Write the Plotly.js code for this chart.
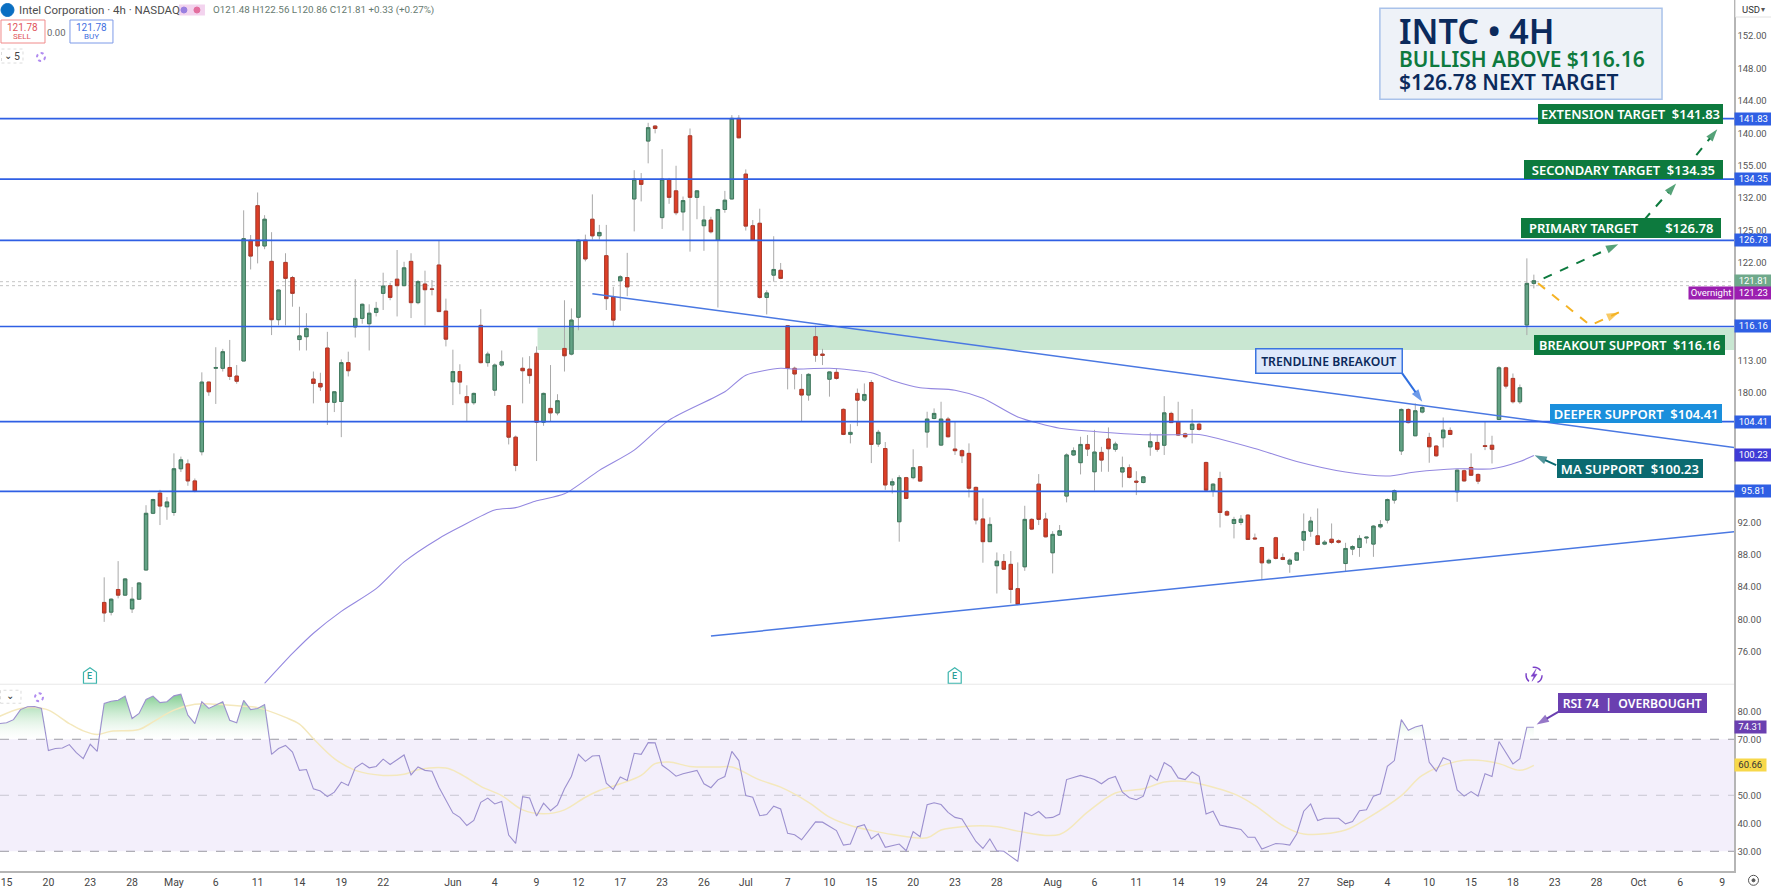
<!DOCTYPE html>
<html>
<head>
<meta charset="utf-8">
<script src="https://cdn.plot.ly/plotly-3.0.1.min.js"></script>
<style>html,body{margin:0;padding:0;background:#fff}#chart{width:1771px;height:888px}</style>
</head>
<body>
<div id="chart"></div>
<script>
// 4h candles, index 0 = first visible candle
var opens = [82.1,80.9,83.7,83.0,81.3,82.5,86.1,93.1,95.6,93.9,
  93.2,98.6,99.2,97.1,100.7,109.3,111.0,111.0,111.1,110.04,
  111.9,126.8,131.07,126.1,124.2,117.0,124.07,122.2,114.55,114.9,
  109.67,109.13,113.5,106.8,106.9,111.7,116.1,117.16,116.5,117.9,
  120.25,121.2,122.0,121.2,124.2,119.1,121.4,120.8,123.75,118.06,
  109.34,110.6,107.5,106.75,116.3,111.7,108.3,111.4,106.4,102.5,
  111.0,110.9,112.85,104.35,106.05,105.5,113.45,112.75,117.3,126.8,
  129.4,127.36,124.9,119.8,121.8,122.2,131.9,134.3,139.05,140.9,
  129.6,134.3,132.9,130.3,139.7,132.1,128.6,129.3,126.8,130.6,
  131.9,141.85,134.97,128.6,128.9,119.75,122.5,123.1,116.25,111.0,
  108.4,107.7,114.9,112.75,109.65,110.5,105.93,102.84,107.9,107.07,
  109.25,101.65,101.1,96.6,92.06,97.5,97.5,98.85,103.13,104.8,
  101.52,104.73,101.03,100.83,100.5,96.3,92.4,89.6,86.63,87.16,
  86.8,83.8,86.5,92.35,96.7,92.4,88.23,90.4,95.23,100.3,
  99.35,101.6,98.23,100.62,102.27,101.0,98.2,98.73,97.07,96.9,
  101.3,101.85,101.5,105.43,104.4,102.9,103.46,104.1,99.38,95.88,
  97.4,93.3,91.85,91.97,92.88,90.05,88.88,86.99,90.08,87.65,
  86.83,87.32,89.79,90.9,90.32,89.3,89.9,89.7,86.9,88.68,
  88.88,90.05,89.3,91.43,92.26,94.73,100.8,105.92,102.67,105.6,
  102.46,101.4,102.42,103.33,95.76,98.35,98.76,97.9,101.45,101.5,
  104.68,111.06,109.75,106.87,116.34,121.48];
var highs = [85.2,82.6,87.2,85.1,84.0,84.6,94.1,94.9,96.0,95.1,
  100.5,100.1,99.75,97.4,110.5,109.35,113.6,113.4,114.5,111.4,
  130.5,127.45,132.7,129.9,127.8,120.7,125.2,122.4,118.6,117.8,
  110.6,110.45,115.5,108.2,112.1,113.05,122.0,119.0,118.9,119.2,
  122.8,121.56,125.6,124.15,125.2,121.9,123.05,121.9,126.8,119.6,
  113.3,111.5,108.9,108.0,118.3,113.05,111.6,113.2,106.45,102.7,
  112.35,112.5,113.7,108.0,111.4,107.8,119.4,118.4,126.9,127.5,
  132.47,128.7,128.7,121.05,122.5,125.25,135.45,135.1,141.3,141.0,
  138.05,134.5,136.0,132.2,140.6,133.0,131.05,129.7,130.7,132.9,
  142.25,142.25,135.55,129.3,130.7,120.65,127.3,124.0,116.3,111.2,
  110.3,110.4,116.25,113.4,110.6,111.0,106.05,104.1,108.5,109.13,
  109.55,103.4,101.9,97.4,97.8,97.6,101.0,98.93,105.64,106.05,
  106.87,105.0,104.4,101.0,101.73,96.4,94.94,92.6,88.27,88.07,
  88.44,87.04,94.03,92.5,97.94,93.17,90.9,91.65,100.5,101.24,
  102.55,102.76,103.4,101.3,103.7,101.94,100.1,99.14,98.3,97.7,
  103.05,102.76,107.56,105.64,106.87,103.05,105.96,104.3,99.46,96.8,
  98.23,93.5,92.67,92.88,93.0,90.6,88.96,87.5,90.2,88.14,
  87.53,88.35,93.08,92.67,93.7,89.8,91.85,89.87,89.46,89.17,
  90.4,90.2,91.64,92.26,94.93,96.05,106.05,106.05,106.66,106.33,
  103.04,101.5,104.93,103.7,98.5,98.5,100.5,98.02,104.4,102.67,
  111.27,111.2,110.36,109.0,124.57,122.56];
var lows = [79.7,80.5,82.6,82.9,80.8,82.4,86.1,93.0,91.65,92.3,
  92.8,98.2,96.5,95.7,100.25,107.6,106.6,110.6,109.55,109.1,
  111.9,123.2,123.95,125.7,115.1,116.3,116.3,118.6,113.2,113.2,
  106.67,108.2,104.0,105.6,102.5,110.0,114.8,116.5,113.2,117.4,
  118.2,119.4,117.4,121.15,117.2,118.9,116.3,120.0,118.0,113.7,
  106.46,107.8,104.5,106.5,111.6,111.2,107.6,111.2,101.6,98.3,
  106.67,109.1,99.55,103.9,104.4,105.2,110.6,112.6,115.7,124.2,
  126.9,126.9,118.2,116.1,118.1,119.9,127.9,131.6,136.3,140.0,
  128.2,131.3,129.9,128.0,125.4,129.4,125.5,127.65,118.5,130.2,
  131.9,139.4,128.0,126.8,119.6,117.65,121.7,122.0,108.4,108.4,
  104.4,107.0,111.8,111.4,107.5,109.6,102.75,101.73,103.86,106.87,
  99.3,101.3,96.0,95.55,89.6,94.85,97.3,97.0,101.2,104.7,
  101.4,102.47,100.3,99.3,95.06,91.73,87.0,89.6,83.2,86.1,
  82.0,81.77,86.0,91.03,91.65,90.13,85.68,90.3,94.45,100.17,
  97.9,100.17,95.9,98.23,98.23,100.7,96.3,97.4,95.35,96.8,
  100.2,100.7,100.3,104.27,102.64,102.35,101.73,103.3,95.76,95.14,
  91.35,92.75,90.0,91.64,89.8,89.87,84.93,86.83,87.4,87.32,
  85.76,87.24,88.47,90.2,89.17,89.17,89.3,89.38,85.88,87.94,
  87.73,89.38,87.73,91.23,91.85,94.3,100.3,104.2,102.63,105.43,
  99.34,100.08,101.23,102.75,94.52,97.03,97.7,96.7,100.9,99.25,
  104.6,108.5,106.66,106.6,115.1,120.86];
var closes = [80.8,82.5,83.0,85.0,82.5,84.5,93.1,94.8,94.0,94.5,
  98.6,99.7,97.1,95.8,109.3,108.1,111.1,113.05,110.0,109.4,
  127.0,124.85,126.1,129.4,117.0,120.66,122.1,120.25,115.0,115.9,
  109.13,108.7,106.8,108.1,111.7,110.7,117.16,118.9,117.8,118.4,
  121.15,119.75,121.2,123.4,119.1,121.7,120.7,120.75,118.0,114.6,
  110.6,109.3,106.75,107.9,111.7,112.75,111.4,111.8,102.5,99.0,
  110.7,110.1,104.35,107.9,105.5,107.0,112.55,116.95,126.8,124.5,
  127.35,127.77,119.6,116.95,122.3,121.05,134.35,133.7,140.7,140.6,
  134.35,132.1,130.2,131.7,132.1,132.9,129.3,127.85,130.6,131.75,
  141.85,139.45,128.55,126.8,119.75,120.3,123.2,122.1,111.0,110.3,
  107.7,110.25,112.6,112.6,110.55,109.75,102.84,103.09,107.07,107.77,
  101.6,103.1,96.6,97.0,97.5,94.94,98.73,97.08,104.73,105.43,
  104.73,102.55,100.83,100.2,96.2,92.27,89.6,91.73,87.2,86.2,
  83.7,81.85,92.35,91.15,92.35,90.2,90.5,90.95,100.3,100.83,
  101.6,101.03,100.66,99.67,101.07,101.65,98.73,97.53,96.95,97.6,
  101.94,101.0,105.5,104.3,102.76,102.55,104.1,103.45,95.96,96.7,
  93.2,92.88,92.34,92.38,89.87,89.95,86.99,87.3,87.53,87.4,
  87.32,88.22,90.86,92.14,89.25,89.54,89.5,89.54,88.76,89.0,
  90.0,90.15,91.52,91.72,94.8,95.88,105.92,104.3,105.76,106.17,
  101.31,100.2,103.37,102.83,98.43,97.1,97.8,97.07,101.35,101.0,
  111.06,108.8,106.87,108.6,121.48,121.81];

// 50 period average under the candles
var maIdx = [23,27,30,34,39,43,48,51,56,59,62,66,71,76,81,89,92,97,99,104,110,113,117,122,126,131,137,142,149,154,157,165,171,178,184,188,194,199,203,205];
var maVal = [72.1,75.8,78.3,81,83.8,87.1,90,91.4,93.5,93.8,94.65,95.5,98.4,100.9,104.6,108.1,110.15,111,110.9,111,110.45,109.5,108.6,108.3,107.3,105,103.6,103.2,102.8,102.8,102.83,101.1,99.5,98.2,97.7,98.2,98.6,98.6,99.5,100.23];

// RSI, one value per bar starting 15 bars before the first candle
var rsiStart = -15;
var rsiVal = [75.6,75.9,77.0,80.6,81.6,81.7,81.0,66.0,66.7,66.9,68.1,65.2,63.1,68.2,65.7,
  82.8,83.6,83.9,85.4,77.4,79.2,84.2,85.4,83.1,83.4,85.5,86.1,78.6,75.6,83.4,81.0,82.2,83.4,76.8,75.9,
  83.9,80.6,81.0,82.4,64.6,66.7,67.8,65.4,58.9,59.2,52.3,51.5,49.5,51.1,54.7,53.5,59.8,61.5,59.8,60.3,
  62.9,61.0,62.7,64.4,57.3,60.1,58.9,58.6,52.9,48.1,43.7,42.1,39.2,41.0,47.5,49.0,46.9,47.8,35.8,32.8,
  49.5,49.0,42.6,47.2,44.5,46.6,52.3,56.8,64.6,62.1,64.0,64.2,54.3,52.1,56.5,55.3,65.0,64.6,68.8,68.7,
  60.7,58.9,56.8,57.7,58.3,58.9,54.1,52.7,55.5,56.7,65.7,62.4,49.9,49.3,42.7,43.1,46.1,45.1,36.4,35.9,
  34.1,37.4,40.5,40.4,38.8,37.4,32.2,32.6,38.8,39.5,34.4,36.2,31.4,32.0,32.6,30.2,37.0,35.2,46.6,47.3,
  46.7,43.9,42.1,41.5,37.4,33.5,31.0,34.4,30.2,30.0,28.2,26.4,43.8,42.7,44.2,41.9,42.1,43.3,55.6,56.4,
  57.1,56.4,55.6,54.1,55.9,56.7,51.1,49.1,48.4,49.7,57.1,55.3,61.7,60.1,56.2,55.6,58.3,56.8,43.3,44.3,
  39.4,38.8,38.3,37.8,35.0,35.0,30.8,31.8,32.8,32.6,32.2,36.2,44.3,46.9,41.0,41.8,41.8,41.8,39.8,40.6,
  44.5,44.8,49.7,50.5,60.3,62.4,77.0,73.2,74.4,75.0,61.8,58.6,63.4,62.4,51.9,49.7,51.3,49.7,57.7,56.7,
  69.2,65.2,61.2,63.1,74.3,74.31];
var rsiMaIdx = [-15,-12,-10,-8,-5,-3,-1,1,5,7,10,13,16,20,22,26,28,30,33,36,40,43,45,49,51,54,57,60,63,66,69,71,74,77,79,81,84,88,90,94,97,101,104,107,110,113,118,120,123,128,131,137,141,145,149,152,155,162,165,169,172,178,181,186,189,194,197,200,203,205];
var rsiMaVal = [78.2,81,81.3,80.4,75.6,73,71.7,72.9,73.5,76.2,80.4,82.5,82.5,81.8,81.3,77.8,75.4,70.2,63.1,58.9,57.1,57.5,59.1,59.7,57.7,53.2,49.9,44.8,43.4,44.8,49.3,51.7,54.1,57.1,61.3,61.9,60.3,60.1,60.1,55.5,52.9,47.5,42.2,39.2,37.4,36,34.8,37.6,38.8,38.8,37.2,36,44,50.8,52.3,54.7,55,50.5,46.4,39.2,36.2,37.6,41.6,49.9,57.1,62.1,62.5,61.3,58.9,60.66];

// level lines and axis labels
var levels = [141.83,134.35,126.78,116.16,104.41,95.81];
var priceTicks = [152,148,144,140,136,132,128,124,112,108,92,88,84,80,76];
var priceTickText = ['152.00','148.00','144.00','140.00','155.00','132.00','125.00','122.00','113.00','180.00','92.00','88.00','84.00','80.00','76.00'];
var rsiTicks = [80,70,50,40,30];
var rsiTickText = ['80.00','70.00','50.00','40.00','30.00'];
var timeTicks = [-14,-8,-2,4,10,16,22,28,34,40,50,56,62,68,74,80,86,92,98,104,110,116,122,128,136,142,148,154,160,166,172,178,184,190,196,202,208,214,220,226,232];
var timeText = ['15','20','23','28','May','6','11','14','19','22','Jun','4','9','12','17','23','26','Jul','7','10','15','20','23','28','Aug','6','11','14','19','24','27','Sep','4','10','15','18','23','28','Oct','6','9'];

var PLOT_W = 1734.5, PLOT_H = 870.7;
function px(x) { return x / PLOT_W; }
function py(y) { return 1 - y / PLOT_H; }

var GREEN = '#0d7a3e', NAVY = '#0b2a5c', BLUE = '#2f5fe4', PURPLE = '#6a3fb0', TEAL = '#0b6a70';
var FONT = 'Noto Sans';

var candleX = opens.map(function (v, i) { return i; });
var rsiX = rsiVal.map(function (v, i) { return i + rsiStart; });

// wicks are grey, bodies get their own outline, so two candle traces
var wicks = {
  type: 'candlestick', x: candleX, open: opens, high: highs, low: lows, close: closes,
  increasing: {line: {color: '#a9a9a9', width: 1}, fillcolor: '#a9a9a9'},
  decreasing: {line: {color: '#a9a9a9', width: 1}, fillcolor: '#a9a9a9'},
  whiskerwidth: 0, hoverinfo: 'skip'
};
var bodies = {
  type: 'candlestick', x: candleX, open: opens, close: closes,
  high: opens.map(function (v, i) { return Math.max(v, closes[i]); }),
  low: opens.map(function (v, i) { return Math.min(v, closes[i]); }),
  increasing: {line: {color: '#3f7a5e', width: 1}, fillcolor: '#63a285'},
  decreasing: {line: {color: '#b0392a', width: 1}, fillcolor: '#dd3f27'},
  whiskerwidth: 0, hoverinfo: 'skip'
};
var ma = {type: 'scatter', mode: 'lines', x: maIdx, y: maVal, line: {color: '#9488e0', width: 1.1, shape: 'spline', smoothing: 0.7}, hoverinfo: 'skip'};

function trend(x, y, color) {
  return {type: 'scatter', mode: 'lines', x: x, y: y, line: {color: color, width: 1.5}, hoverinfo: 'skip'};
}
// dashed or plain arrow, the head is a marker on the last point
function arrow(x, y, color, dash, yaxis) {
  var sizes = x.map(function (v, i) { return i == x.length - 1 ? 13 : 0; });
  return {type: 'scatter', mode: 'lines+markers', x: x, y: y, yaxis: yaxis || 'y',
    line: {color: color, width: 2, dash: dash},
    marker: {symbol: 'arrow', angleref: 'previous', size: sizes, color: color, line: {width: 0}},
    hoverinfo: 'skip'};
}

// RSI pane
var obBase = {type: 'scatter', mode: 'lines', x: rsiX, y: rsiX.map(function () { return 70; }), yaxis: 'y2', line: {width: 0}, hoverinfo: 'skip'};
var obFill = {type: 'scatter', mode: 'lines', x: rsiX, y: rsiVal.map(function (v) { return Math.max(v, 70); }), yaxis: 'y2',
  line: {width: 0}, fill: 'tonexty',
  fillgradient: {type: 'vertical', start: 70, stop: 87, colorscale: [[0, 'rgba(255,255,255,0.2)'], [1, 'rgba(90,190,110,0.85)']]},
  hoverinfo: 'skip'};
var rsiMa = {type: 'scatter', mode: 'lines', x: rsiMaIdx, y: rsiMaVal, yaxis: 'y2', line: {color: '#f4e8bc', width: 1.5, shape: 'spline'}, hoverinfo: 'skip'};
var rsi = {type: 'scatter', mode: 'lines', x: rsiX, y: rsiVal, yaxis: 'y2', line: {color: '#9c90cf', width: 1.1}, hoverinfo: 'skip'};

var data = [
  wicks, bodies, ma,
  trend([70, 234], [120.2, 101.2], '#4a78e2'),
  trend([87, 234], [77.95, 90.85], '#4a78e2'),
  arrow([206.4, 217.1], [122.1, 126.3], GREEN, 'dash'),
  arrow([220.8, 225.4], [129.3, 133.8], GREEN, 'dash'),
  arrow([228.3, 231.3], [137.3, 140.5], GREEN, 'dash'),
  arrow([205.6, 213.1, 217.2], [121.5, 116.3, 117.9], '#f5b324', 'dash'),
  arrow([186, 189], [110.53, 106.87], '#2f6fe0', 'solid'),
  arrow([208.2, 205.1], [99.05, 100.28], TEAL, 'solid'),
  obBase, obFill, rsiMa, rsi,
  arrow([208.5, 205.4], [79.8, 75.25], PURPLE, 'solid', 'y2')
];

var shapes = [];
// green breakout zone
shapes.push({type: 'rect', layer: 'below', xref: 'paper', x0: px(537.7), x1: 1, yref: 'y', y0: 113.25, y1: 116.0, fillcolor: '#c9e7d2', line: {width: 0}});
// RSI band
shapes.push({type: 'rect', layer: 'below', xref: 'paper', x0: 0, x1: 1, yref: 'y2', y0: 30, y1: 70, fillcolor: '#f3effb', line: {width: 0}});
[70, 50, 30].forEach(function (v) {
  shapes.push({type: 'line', layer: 'below', xref: 'paper', x0: 0, x1: 1, yref: 'y2', y0: v, y1: v,
    line: {color: v == 50 ? '#c9c6d2' : '#9a9aa2', width: 1, dash: 'dash'}});
});
// last price and overnight dotted lines
[121.69, 121.2].forEach(function (v) {
  shapes.push({type: 'line', layer: 'below', xref: 'paper', x0: 0, x1: 1, yref: 'y', y0: v, y1: v, line: {color: '#c4c4c4', width: 1, dash: 'dot'}});
});
levels.forEach(function (v) {
  shapes.push({type: 'line', xref: 'paper', x0: 0, x1: 1, yref: 'y', y0: v, y1: v, line: {color: BLUE, width: 1.7}});
});
function pxRect(x0, y0, x1, y1, fill, line) {
  shapes.push({type: 'rect', xref: 'paper', yref: 'paper', x0: px(x0), x1: px(x1), y0: py(y1), y1: py(y0), fillcolor: fill, line: line});
}
function pxRing(cx, cy, r, color, width, dash, fill) {
  shapes.push({type: 'circle', xref: 'paper', yref: 'paper', x0: px(cx - r), x1: px(cx + r), y0: py(cy + r), y1: py(cy - r), fillcolor: fill || 'rgba(0,0,0,0)', line: {color: color, width: width, dash: dash || 'solid'}});
}
// small closed outline given in picture pixels
function pxPath(points, fill, color, width) {
  var d = points.map(function (p, i) { return (i ? 'L' : 'M') + px(p[0]) + ',' + py(p[1]); }).join(' ') + ' Z';
  shapes.push({type: 'path', xref: 'paper', yref: 'paper', path: d, fillcolor: fill, line: {color: color, width: width}});
}
pxRect(1380.3, 8.3, 1662.5, 99.3, '#eef2f8', {color: '#a9c2ea', width: 1.5});   // title box
pxRect(1, 20, 45, 43, '#fff', {color: '#f08a8a', width: 1});                   // sell
pxRect(70, 20, 113, 43, '#fff', {color: '#7d9ae8', width: 1});                 // buy
pxRect(1.5, 49, 23, 63, '#fff', {color: '#dcdcdc', width: 1, dash: 'dot'});    // study toggle
pxRect(0.5, 690, 21, 703, '#fff', {color: '#dcdcdc', width: 1, dash: 'dot'});
pxRect(1736, -2, 1773, 17, '#fff', {color: '#e2e2e2', width: 1});              // currency button
shapes.push({type: 'rect', xref: 'paper', yref: 'paper', x0: px(179), x1: px(205), y0: py(15.5), y1: py(4.5), fillcolor: '#f3d3ee', line: {width: 0}});
shapes.push({type: 'line', xref: 'paper', yref: 'paper', x0: 0, x1: 1, y0: py(684), y1: py(684), line: {color: '#e8e8e8', width: 1}});
pxRing(7.5, 10, 6.5, '#0a6fc2', 1, 'solid', '#0a6fc2');
pxRing(41, 57, 4, '#b18cf0', 2, 'dot');
pxRing(39, 697, 4, '#b18cf0', 2, 'dot');
pxRing(1534.5, 675, 8, '#7a3fc8', 1.4, 'dash');
pxPath([[1536.5, 669], [1531.5, 676], [1534.5, 676], [1532.5, 681], [1537.5, 674], [1534.5, 674]], '#7a3fc8', '#7a3fc8', 0.5);
pxRing(1754, 880, 5, '#555', 1);
pxRing(1754, 880, 1.5, '#555', 1, 'solid', '#555');
pxRing(184, 10, 3, '#9a7fe0', 1, 'solid', '#9a7fe0');
pxRing(197, 10, 3, '#e36f9f', 1, 'solid', '#e36f9f');
// earnings markers
[90, 955].forEach(function (x) {
  pxPath([[x - 6.5, 683], [x + 6.5, 683], [x + 6.5, 672], [x, 667.5], [x - 6.5, 672]], '#fff', '#3db5ad', 1.2);
});

var anns = [];
function text(x, y, str, size, color, anchor, weight, family) {
  anns.push({xref: 'paper', yref: 'paper', x: px(x), y: py(y), text: str, showarrow: false, xanchor: anchor || 'left', yanchor: 'middle',
    font: {family: family || FONT, size: size, color: color, weight: weight || 400}});
}
function label(x0, y0, x1, y1, str, bg, color, border, size) {
  anns.push({xref: 'paper', yref: 'paper', x: px((x0 + x1) / 2), y: py((y0 + y1) / 2), width: x1 - x0, height: y1 - y0,
    text: str, showarrow: false, xanchor: 'center', yanchor: 'middle', align: 'center', valign: 'middle', borderpad: 0,
    bgcolor: bg, bordercolor: border || bg, borderwidth: border ? 1.5 : 0,
    font: {family: FONT, size: size || 13, color: color, weight: 600}});
}
function tag(yref, y, str, bg, color, w) {
  anns.push({xref: 'paper', yref: yref, x: 1, y: y, xanchor: 'left', yanchor: 'middle', width: w || 36.5, height: 11.5, borderpad: 0,
    text: str, showarrow: false, bgcolor: bg, font: {family: 'Roboto', size: 9.5, color: color}});
}

text(1397, 30.7, 'INTC \u2022 4H', 34, NAVY, 'left', 600);
text(1397, 59.3, 'BULLISH ABOVE $116.16', 21, GREEN, 'left', 600);
text(1397, 81.7, '$126.78 NEXT TARGET', 21, NAVY, 'left', 600);

label(1538.7, 104, 1723.7, 124, 'EXTENSION TARGET \u00a0$141.83', GREEN, '#fff');
label(1524.8, 159.3, 1723.7, 178.7, 'SECONDARY TARGET \u00a0$134.35', GREEN, '#fff');
label(1521.2, 217.7, 1721.5, 237.3, 'PRIMARY TARGET \u00a0\u00a0\u00a0\u00a0\u00a0\u00a0\u00a0$126.78', GREEN, '#fff');
label(1534.3, 335, 1725.5, 355, 'BREAKOUT SUPPORT \u00a0$116.16', GREEN, '#fff', null, 12.7);
label(1550.3, 404, 1722.6, 423.3, 'DEEPER SUPPORT \u00a0$104.41', '#1a8fdc', '#fff');
label(1557.6, 458.3, 1703.3, 477.7, 'MA SUPPORT \u00a0$100.23', TEAL, '#fff');
label(1257.5, 349, 1402, 372, 'TRENDLINE BREAKOUT', '#dde8fb', NAVY, '#3b74e0', 12.2);
label(1558.7, 692.7, 1707.3, 712.7, 'RSI 74 \u00a0| \u00a0OVERBOUGHT', PURPLE, '#fff', null, 12.2);

tag('y', 141.83, '141.83', BLUE, '#fff');
tag('y', 134.35, '134.35', BLUE, '#fff');
tag('y', 126.78, '126.78', BLUE, '#fff');
tag('y', 121.81, '121.81', '#6fa98b', '#fff');
tag('y', 116.16, '116.16', BLUE, '#fff');
tag('y', 104.41, '104.41', BLUE, '#fff');
tag('y', 100.25, '100.23', '#3f3bd6', '#fff');
tag('y', 95.81, '95.81', BLUE, '#fff');
tag('y', 120.3, '121.23', '#9b1fb0', '#fff');
tag('y2', 74.31, '74.31', PURPLE, '#fff', 30.5);
tag('y2', 60.66, '60.66', '#f7d84a', '#333', 30.5);
anns.push({xref: 'paper', yref: 'y', x: 1, y: 120.3, xanchor: 'right', yanchor: 'middle', width: 44, height: 11.5, borderpad: 0,
  text: 'Overnight', showarrow: false, bgcolor: '#9b1fb0', font: {family: 'Roboto', size: 9.5, color: '#fff'}});

// header
text(17, 10, 'Intel Corporation \u00b7 4h \u00b7 NASDAQ', 11.5, '#4d4d4d', 'left', 400, 'Roboto');
text(211, 10, 'O121.48 H122.56 L120.86 C121.81 +0.33 (+0.27%)', 9.8, '#667a70', 'left', 400, 'Roboto');
text(23, 27, '121.78', 10, '#e0545a', 'center', 400, 'Roboto');
text(23, 36.5, 'SELL', 8, '#e0545a', 'center', 400, 'Roboto');
text(56.5, 32, '0.00', 9.5, '#666', 'center', 400, 'Roboto');
text(91.5, 27, '121.78', 10, '#3f6fe0', 'center', 400, 'Roboto');
text(91.5, 36.5, 'BUY', 8, '#3f6fe0', 'center', 400, 'Roboto');
text(8.5, 55.5, '\u2304', 10, '#333', 'center', 400, 'DejaVu Sans');
text(17.5, 56, '5', 10.5, '#444', 'center', 400, 'Roboto');
text(10.5, 695, '\u2304', 10, '#333', 'center', 400, 'DejaVu Sans');
text(1741, 9.3, 'USD', 9.5, '#333', 'left', 400, 'Roboto');
text(1764, 9.3, '\u25be', 8, '#555', 'center', 400, 'DejaVu Sans');
text(90, 676, 'E', 9, '#2a9d96', 'center', 500, 'Roboto');
text(955, 676, 'E', 9, '#2a9d96', 'center', 500, 'Roboto');

var layout = {
  width: 1771, height: 888,
  margin: {l: 0, r: 36.5, t: 0, b: 17.3, pad: 0},
  paper_bgcolor: '#fff', plot_bgcolor: '#fff',
  showlegend: false, dragmode: false,
  xaxis: {range: [-14.94, 233.7], rangeslider: {visible: false}, anchor: 'y2', showgrid: false, zeroline: false,
    tickmode: 'array', tickvals: timeTicks, ticktext: timeText, ticks: '', tickangle: 0,
    tickfont: {family: 'Roboto', size: 10.5, color: '#444'}, showline: true, linecolor: '#b5b5b5', linewidth: 2},
  yaxis: {domain: [0.2144, 1], range: [72.0, 156.46], side: 'right', showgrid: false, zeroline: false,
    tickmode: 'array', tickvals: priceTicks, ticktext: priceTickText, ticks: '',
    tickfont: {family: 'Roboto', size: 9.5, color: '#555'}, showline: true, linecolor: '#b5b5b5', linewidth: 1.5},
  yaxis2: {domain: [0, 0.2144], range: [22.96, 89.64], side: 'right', showgrid: false, zeroline: false,
    tickmode: 'array', tickvals: rsiTicks, ticktext: rsiTickText, ticks: '',
    tickfont: {family: 'Roboto', size: 9.5, color: '#555'}, showline: true, linecolor: '#b5b5b5', linewidth: 1.5},
  shapes: shapes,
  annotations: anns
};

Plotly.newPlot('chart', data, layout, {displayModeBar: false, staticPlot: true});
</script>
</body>
</html>
